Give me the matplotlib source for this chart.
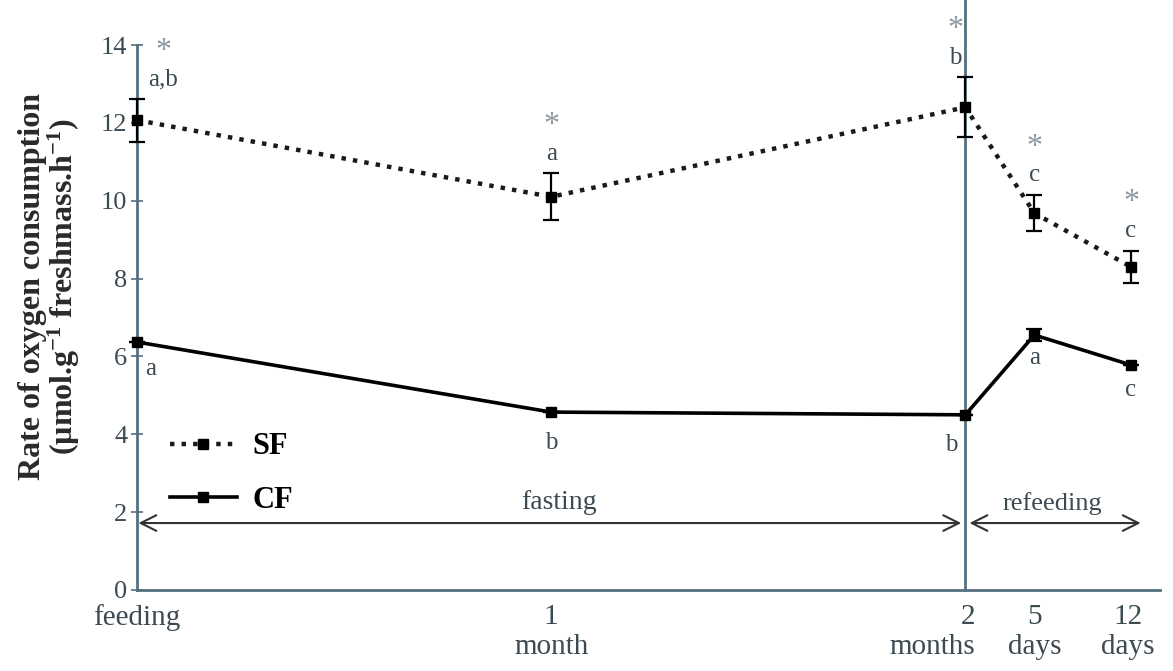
import matplotlib
matplotlib.use("Agg")
import matplotlib.pyplot as plt
import matplotlib.transforms as mtransforms

# Data
days = [0, 30, 60, 65, 72]
tick_labels = ["feeding", "1\nmonth", "2\nmonths", "5\ndays", "12\ndays"]
sf_values = [12.07, 10.1, 12.4, 9.68, 8.3]
sf_err = [0.55, 0.6, 0.77, 0.47, 0.42]
cf_values = [6.37, 4.57, 4.5, 6.55, 5.78]
cf_err = [0.0, 0.0, 0.0, 0.15, 0.0]
sf_letters = ["a,b", "a", "b", "c", "c"]
cf_letters = ["a", "b", "b", "a", "c"]
phase_labels = ["fasting", "refeeding"]

plt.rcParams['font.family'] = ['Liberation Serif', 'DejaVu Serif']
plt.rcParams['mathtext.fontset'] = 'custom'
plt.rcParams['mathtext.rm'] = 'Liberation Serif'
plt.rcParams['mathtext.bf'] = 'Liberation Serif:bold'
plt.rcParams['mathtext.it'] = 'Liberation Serif:italic'
axis_col = '#55707e'
text_col = '#3c4a52'

fig = plt.figure(figsize=(11.73, 6.71), dpi=100)
ax = fig.add_axes([137/1173, 81/671, (1160-137)/1173, (590-45)/671])
ax.set_xlim(0, 74.1)
ax.set_ylim(0, 14)

for s in ['top', 'right']:
    ax.spines[s].set_visible(False)
for s in ['left', 'bottom']:
    ax.spines[s].set_color(axis_col)
    ax.spines[s].set_linewidth(2)

ax.set_yticks(range(0, 15, 2))
ax.tick_params(axis='y', direction='inout', length=8, width=1.2, color=axis_col,
               labelsize=19, labelcolor=text_col, pad=3)
ax.set_xticks(days)
ax.set_xticklabels(tick_labels)
ax.tick_params(axis='x', length=0, labelsize=21, labelcolor=text_col, pad=10)
xlabs = ax.get_xticklabels()
for lab in xlabs:
    lab.set_linespacing(1.2)
    lab.set_verticalalignment('top')
# "2 months" label sits to the left of its tick, right-aligned
xlabs[2].set_horizontalalignment('right')
xlabs[2].set_multialignment('right')
xlabs[2].set_transform(xlabs[2].get_transform() +
                       mtransforms.ScaledTranslation(10/100, 0, fig.dpi_scale_trans))
xlabs[4].set_transform(xlabs[4].get_transform() +
                       mtransforms.ScaledTranslation(-3/100, 0, fig.dpi_scale_trans))

# vertical separator
ax.plot([60, 60], [0, 15.2], color=axis_col, lw=2, clip_on=False, zorder=1)

# SF series
eb = ax.errorbar(days, sf_values, yerr=sf_err, color='black', lw=0, elinewidth=1.6,
                 capsize=6, capthick=1.6, zorder=3)
for art in list(eb.lines[1]) + list(eb.lines[2]):
    art.set_clip_on(False)
ax.plot(days, sf_values, color='#1a1a1a', linestyle=(0, (1, 1.6)), lw=3.2,
        marker='s', markersize=7, markerfacecolor='black', markeredgecolor='black',
        label='SF', zorder=4, clip_on=False)
# CF series
eb2 = ax.errorbar(days, cf_values, yerr=cf_err, color='black', lw=0, elinewidth=1.6,
                  capsize=6, capthick=1.6, zorder=3)
for art in list(eb2.lines[1]) + list(eb2.lines[2]):
    art.set_clip_on(False)
ax.plot(days, cf_values, color='black', linestyle='-', lw=2.6,
        marker='s', markersize=7, markerfacecolor='black', label='CF', zorder=4,
        clip_on=False)

# significance letters
for i, (x, v, e) in enumerate(zip(days, sf_values, sf_err)):
    dx = 1.9 if i == 0 else (-0.7 if i == 2 else 0)
    ax.text(x + dx, v + e + 0.22, sf_letters[i], ha='center', va='bottom',
            fontsize=18, color=text_col)
    ax.text(x + dx, v + e + 0.85, "*", ha='center', va='bottom',
            fontsize=23, color='#8a98a0')
cf_off = [(1.0, -0.4), (0, -0.5), (-1.0, -0.5), (0, -0.3), (0, -0.35)]
for i, (x, v) in enumerate(zip(days, cf_values)):
    dx, dy = cf_off[i]
    ax.text(x + dx, v + dy, cf_letters[i], ha='center', va='top',
            fontsize=18, color=text_col)

# phase arrows
arr_y = 1.72
ax.annotate('', xy=(0.1, arr_y), xytext=(59.7, arr_y),
            arrowprops=dict(arrowstyle='<->', color='#333333', lw=1.5,
                            mutation_scale=28, shrinkA=0, shrinkB=0))
ax.annotate('', xy=(60.3, arr_y), xytext=(72.7, arr_y),
            arrowprops=dict(arrowstyle='<->', color='#333333', lw=1.5,
                            mutation_scale=28, shrinkA=0, shrinkB=0))
ax.text(30.6, arr_y + 0.2, phase_labels[0], ha='center', va='bottom',
        fontsize=20, color=text_col)
ax.text(66.3, arr_y + 0.2, phase_labels[1], ha='center', va='bottom',
        fontsize=19, color=text_col)

# legend
leg = ax.legend(loc='upper left', bbox_to_anchor=(0.005, 0.34), frameon=False,
                handlelength=2.2, labelspacing=0.8, handletextpad=0.5,
                prop={'weight': 'bold', 'size': 22})

ax.set_ylabel("Rate of oxygen consumption\n(µmol.g$^{\\mathbf{-1}}$ freshmass.h$^{\\mathbf{-1}}$)",
              fontsize=23, fontweight='bold', color='#2a2a2a',
              linespacing=0.95)
ax.yaxis.set_label_coords(-0.054, 0.556)

fig.savefig("out.png", dpi=100)
